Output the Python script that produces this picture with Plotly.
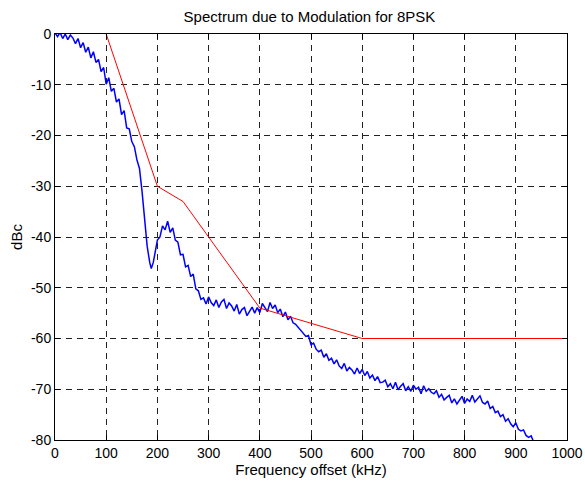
import plotly.graph_objects as go

freq_khz = [
    0, 5, 10, 15, 20, 25, 30, 35, 40, 45, 50, 55, 60, 65, 70, 75, 80, 85, 90, 95,
    100, 105, 110, 115, 120, 125, 130, 135, 140, 145, 150, 155, 160, 165, 170, 175,
    180, 185, 188, 192, 195, 200, 205, 210, 215, 220, 225, 230, 235, 240, 245, 250,
    255, 260, 265, 270, 275, 280, 285, 290, 295, 300, 305, 310, 315, 320, 325, 330,
    335, 340, 345, 350, 355, 360, 365, 370, 375, 380, 385, 390, 395, 400, 405, 410,
    415, 420, 425, 430, 435, 440, 445, 450, 455, 460, 465, 470, 475, 480, 485, 490,
    495, 500, 505, 510, 515, 520, 525, 530, 535, 540, 545, 550, 555, 560, 565, 570,
    575, 580, 585, 590, 595, 600, 605, 610, 615, 620, 625, 630, 635, 640, 645, 650,
    655, 660, 665, 670, 675, 680, 685, 690, 695, 700, 705, 710, 715, 720, 725, 730,
    735, 740, 745, 750, 755, 760, 765, 770, 775, 780, 785, 790, 795, 800, 805, 810,
    815, 820, 825, 830, 835, 840, 845, 850, 855, 860, 865, 870, 875, 880, 885, 890,
    895, 900, 905, 910, 915, 920, 925, 930, 935, 940,
]
spectrum_dbc = [
    0.2, -0.5, 0.3, -0.9, 0.0, -1.1, -0.2, -0.8, -1.9, -0.9,
    -2.7, -1.7, -3.6, -2.6, -4.7, -3.5, -5.6, -5.0, -7.4, -6.6,
    -9.9, -8.6, -11.3, -10.7, -13.4, -12.8, -15.9, -15.1, -18.5, -18.7,
    -21.2, -22.2, -24.8, -26.5, -31.0, -36.5, -41.8, -45.0, -46.2, -45.0,
    -43.4, -40.6, -40.0, -37.8, -38.6, -36.9, -39.1, -38.2, -40.6, -41.0,
    -43.5, -43.4, -45.9, -45.6, -47.8, -47.3, -50.2, -50.6, -52.3, -52.0,
    -53.2, -51.8, -52.9, -53.5, -52.4, -53.9, -52.8, -52.3, -54.1, -53.0,
    -53.6, -54.6, -53.3, -55.2, -54.3, -53.9, -55.5, -54.6, -53.8, -55.0,
    -53.9, -54.9, -53.1, -53.9, -54.7, -52.9, -54.1, -53.4, -54.9, -54.2,
    -55.7, -54.8, -56.3, -55.6, -56.9, -57.2, -57.8, -58.4, -58.9, -59.6,
    -59.4, -61.2, -60.9, -62.1, -62.6, -62.3, -63.7, -63.0, -64.3, -63.9,
    -65.0, -64.2, -65.4, -65.9, -64.9, -66.4, -65.7, -66.2, -67.0, -65.8,
    -66.9, -66.1, -67.3, -66.5, -67.8, -67.2, -68.3, -67.5, -68.7, -68.6,
    -68.2, -69.5, -68.9, -69.9, -68.6, -70.1, -69.4, -68.9, -70.3, -69.5,
    -70.4, -69.2, -70.0, -69.6, -70.9, -69.3, -70.4, -69.9, -70.6, -70.9,
    -70.3, -71.6, -71.0, -72.1, -71.6, -71.2, -72.7, -71.9, -72.9, -72.1,
    -71.4, -72.8, -71.9, -72.4, -71.2, -72.5, -71.8, -71.3, -72.6, -72.9,
    -72.3, -73.8, -73.4, -74.6, -74.3, -75.4, -75.0, -76.3, -75.8, -76.8,
    -77.4, -76.6, -77.9, -78.2, -78.0, -79.1, -79.5, -79.2, -80.4, -80.8,
]

# Modulation spectrum mask (red)
mask_khz = [100, 200, 250, 400, 600, 1000]
mask_dbc = [0, -30, -33, -54, -60, -60]

x_ticks = [0, 100, 200, 300, 400, 500, 600, 700, 800, 900, 1000]
y_ticks = [0, -10, -20, -30, -40, -50, -60, -70, -80]
y_tick_text = ["0", "-10", "-20", "-30", "-40", "-50", "-60", "-70", "-80"]

fig = go.Figure()
fig.add_trace(go.Scatter(
    x=freq_khz, y=spectrum_dbc, mode="lines",
    line=dict(color="#0000ff", width=1.5), showlegend=False,
))
fig.add_trace(go.Scatter(
    x=mask_khz, y=mask_dbc, mode="lines",
    line=dict(color="#ff0000", width=1), showlegend=False,
))

axis_style = dict(
    showline=True, linecolor="black", linewidth=1, mirror="allticks",
    ticks="inside", ticklen=5, tickcolor="black",
    showgrid=True, gridcolor="#222222", gridwidth=1, griddash="6px,5px",
    zeroline=False, automargin=False,
    tickfont=dict(size=14, color="black"),
)

fig.update_layout(
    width=585, height=481,
    paper_bgcolor="white", plot_bgcolor="white",
    font=dict(family="Liberation Sans, Arial, sans-serif", size=14, color="black"),
    title=dict(text="Spectrum due to Modulation for 8PSK", x=0.529, xanchor="center",
               y=0.965, yanchor="middle", font=dict(size=15)),
    margin=dict(l=55, r=18, t=34, b=41),
    xaxis=dict(range=[0, 1000], tickvals=x_ticks, tickangle=0,
               title=dict(text="Frequency offset (kHz)", standoff=0, font=dict(size=15)),
               **axis_style),
    yaxis=dict(range=[-80, 0], tickvals=y_ticks, ticktext=y_tick_text,
               title=dict(text="dBc", standoff=4, font=dict(size=15)),
               **axis_style),
)

# the page body has an 8px default margin; drop it so the figure sits at 0,0
fig.write_html(
    "out.html",
    config={"displayModeBar": False},
    post_script="document.body.style.margin='0';",
)
